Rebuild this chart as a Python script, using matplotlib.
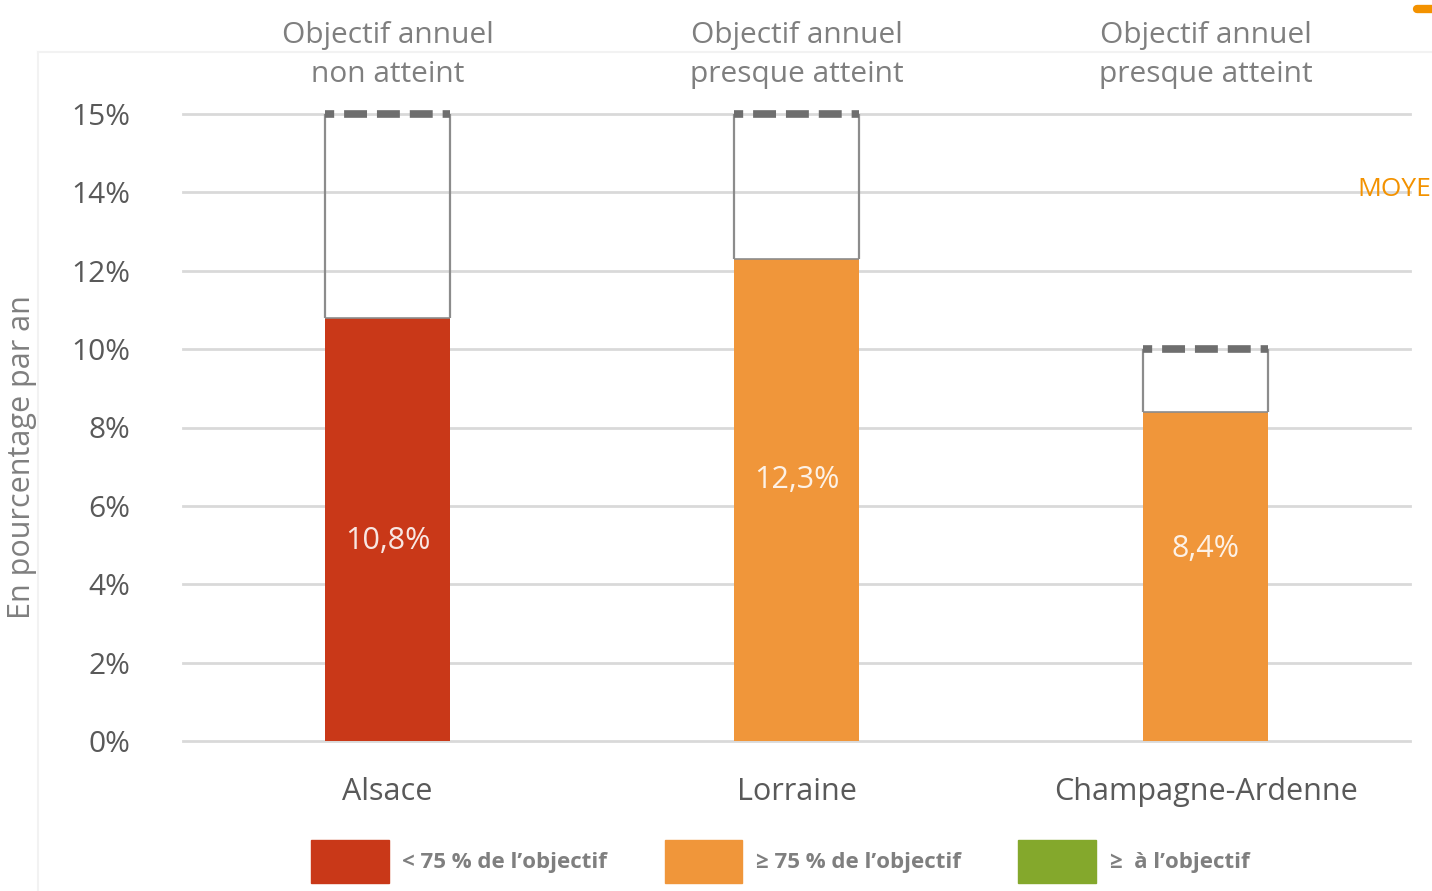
import matplotlib
matplotlib.use("Agg")
import numpy as np
import matplotlib.pyplot as plt
from matplotlib.patches import Patch
from matplotlib.lines import Line2D

# Data
regions = ["Alsace", "Lorraine", "Champagne-Ardenne"]
values = [10.8, 12.3, 8.4]
targets = [15, 15, 10]
value_labels = ["10,8%", "12,3%", "8,4%"]
headers = ["Objectif annuel\nnon atteint", "Objectif annuel\npresque atteint", "Objectif annuel\npresque atteint"]
status = [0, 1, 1]  # index into legend categories
legend_labels = ["< 75 % de l\u2019objectif", "\u2265 75 % de l\u2019objectif", "\u2265  \u00e0 l\u2019objectif"]
legend_colors = ["#C93818", "#F0963A", "#84A82C"]
ytick_vals = [0, 2, 4, 6, 8, 10, 12, 14, 15]
ytick_labels = ["0%", "2%", "4%", "6%", "8%", "10%", "12%", "14%", "15%"]

# where the value labels sit inside the bars (layout only)
label_y = [5.1, 6.65, 4.9]

plt.rcParams['font.family'] = ['Open Sans', 'DejaVu Sans']
grey = "#595959"


# the original axis stretches the last step (14% -> 15%) to a full 2% step
def fwd(v):
    v = np.asarray(v, dtype=float)
    return np.where(v <= 14, v, 14 + 2 * (v - 14))


def inv(u):
    u = np.asarray(u, dtype=float)
    return np.where(u <= 14, u, 14 + (u - 14) / 2)


fig = plt.figure(figsize=(14.32, 8.91), dpi=100)
ax = fig.add_axes([183 / 1432, 1 - 741 / 891, 1227 / 1432, (741 - 114) / 891])
ax.set_yscale('function', functions=(fwd, inv))
ax.set_ylim(0, 15)
ax.set_xlim(-0.5, 2.5)

x = list(range(len(regions)))
w = 0.305

# gridlines
for t in ytick_vals:
    ax.axhline(t, color="#D9D9D9", lw=2, zorder=0, clip_on=False)

colors = [legend_colors[s] for s in status]
ax.bar(x, values, width=w, color=colors, zorder=2)

# empty part up to the target
for i in x:
    ax.vlines([i - w / 2, i + w / 2], values[i], targets[i], color="#8C8C8C", lw=1.6, zorder=3)
    ax.hlines(values[i], i - w / 2, i + w / 2, color="#8C8C8C", lw=1.2, zorder=3)
    ax.hlines(targets[i], i - w / 2, i + w / 2, color="#6E6E6E", lw=5.5,
              linestyles=(0, (1.2, 1.3, 3.0, 1.3, 3.0, 1.3, 3.0, 1.3, 1.2, 5)),
              zorder=4, clip_on=False)
    ax.text(i, label_y[i], value_labels[i], ha='center', va='center',
            fontsize=22, color="white", alpha=0.88, zorder=5)
    ax.text(i, 1.04, headers[i], transform=ax.get_xaxis_transform(), ha='center',
            va='bottom', fontsize=21.5, color="#7F7F7F", linespacing=1.45)

ax.set_yticks(ytick_vals)
ax.set_yticklabels(ytick_labels, fontsize=21.5, color=grey)
ax.set_xticks(x)
ax.set_xticklabels(regions, fontsize=22, color=grey)
ax.tick_params(axis='y', length=0, pad=38)
ax.tick_params(axis='x', length=0, pad=26)
for s in ax.spines.values():
    s.set_visible(False)

fig.text(22 / 1432, 1 - 457 / 891, "En pourcentage par an", rotation=90,
         ha='center', va='center', fontsize=22, color="#7F7F7F")

handles = [Patch(color=c) for c in legend_colors]
leg = fig.legend(handles, legend_labels, loc='center', bbox_to_anchor=(780 / 1432, 1 - 861 / 891),
                 ncol=3, frameon=False, handlelength=3.5, handleheight=2.6,
                 handletextpad=0.6, columnspacing=2.6,
                 prop={'family': 'Open Sans', 'weight': 'bold', 'size': 16})
for t in leg.get_texts():
    t.set_color("#7F7F7F")

# faint outer frame and cropped elements at the right edge
fig.add_artist(Line2D([38 / 1432, 38 / 1432], [0, 1 - 52 / 891], color="#F2F2F2", lw=1.5))
fig.add_artist(Line2D([38 / 1432, 1], [1 - 52 / 891, 1 - 52 / 891], color="#F2F2F2", lw=1.5))
fig.text(1431 / 1432, 1 - 190 / 891, "MOYE", fontsize=19, color="#F39200",
         ha='right', va='center')
fig.add_artist(Line2D([1417 / 1432, 1], [1 - 9 / 891, 1 - 9 / 891], color="#F39200", lw=6,
                      solid_capstyle='round'))

fig.savefig("out.png", dpi=100, facecolor="white")
